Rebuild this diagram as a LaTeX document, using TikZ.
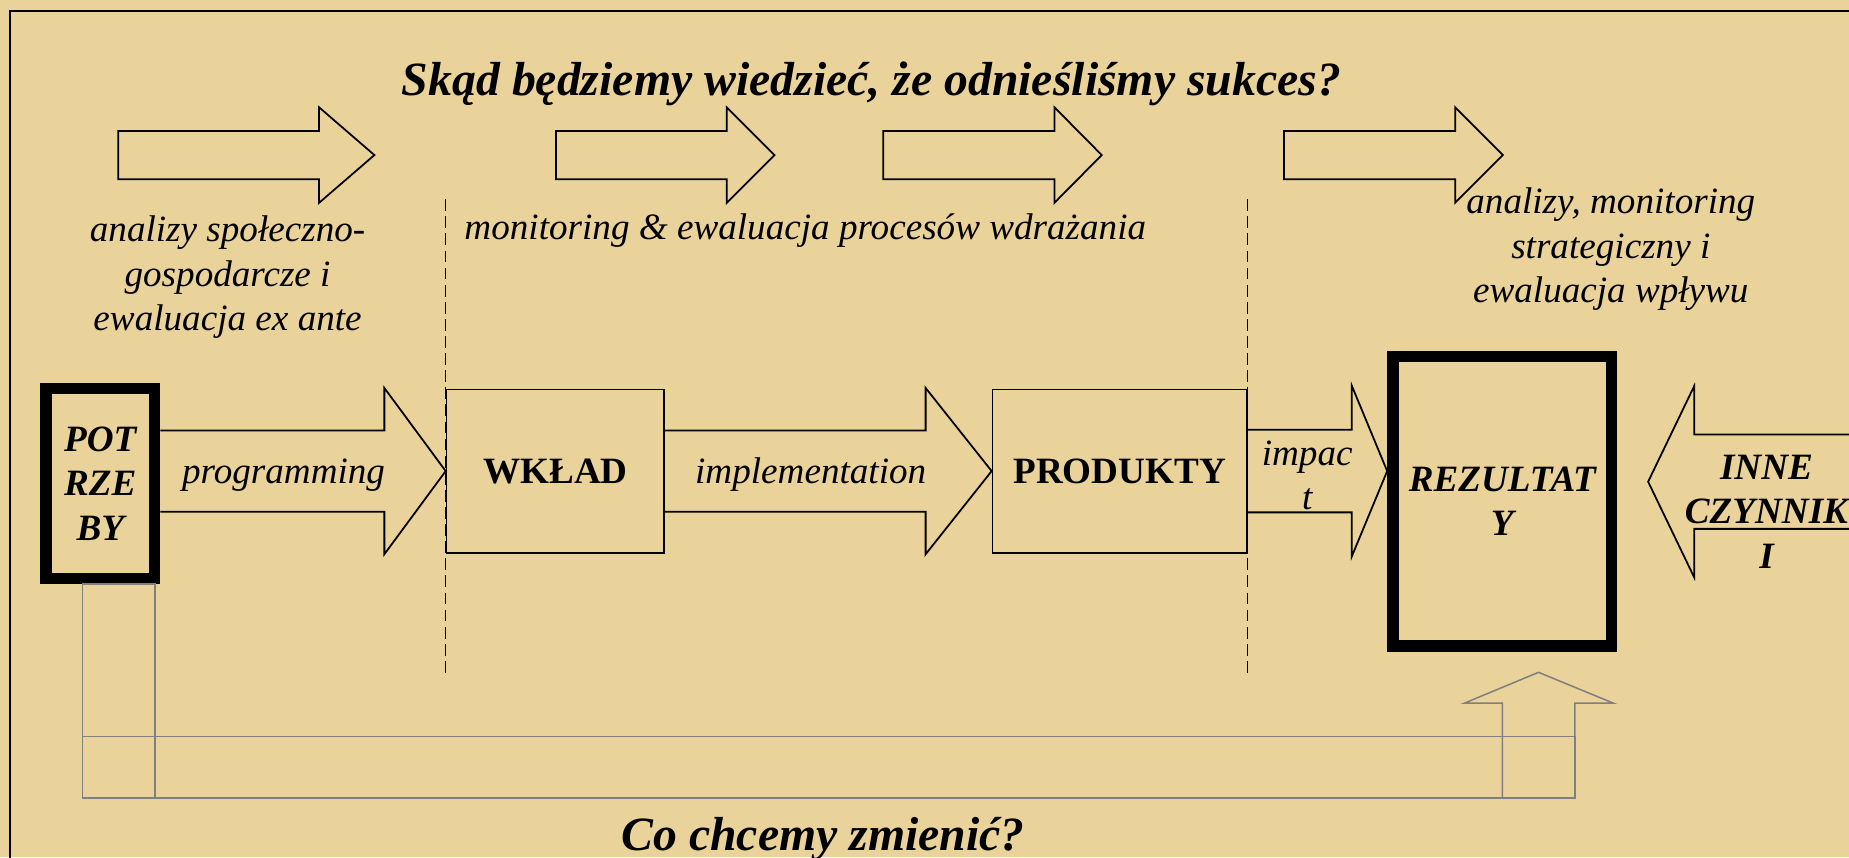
\documentclass[tikz,border=0pt]{standalone}
\usepackage{fontspec}
\setmainfont{Liberation Serif}
\usetikzlibrary{calc}
\definecolor{papyrus}{RGB}{234,211,155}
\definecolor{arrgrey}{RGB}{128,128,128}

\begin{document}
\begin{tikzpicture}[x=1pt,y=-1pt,
    blockarr/.style={draw=black,line width=1.5pt},
    greyarr/.style={draw=arrgrey,line width=1.3pt},
    stage/.style={draw,line width=1.5pt,inner sep=0pt,font=\fontsize{31.5}{37.6}\selectfont\bfseries},
    goal/.style={stage,line width=9.8pt,font=\fontsize{31.5}{37.6}\selectfont\bfseries\itshape,align=center},
    lbl/.style={inner sep=0pt,font=\fontsize{31.5}{37.6}\selectfont\itshape,align=center},
    ttl/.style={inner sep=0pt,font=\fontsize{40.5}{48}\selectfont\bfseries\itshape}]
                      \useasboundingbox (0,0) rectangle (1568,727);
                      \clip (0,0) rectangle (1568,727);
                      \fill[papyrus] (0,0) rectangle (1568,727);
                      \draw[line width=1.7pt] (8.3,9) rectangle (1620,780);
                      % questions
                      \node[ttl,anchor=base] (t) at (739,80.6) {Skąd będziemy wiedzieć, że odnieśliśmy sukces?};
                      \node[ttl,anchor=base] (c) at (698,721) {Co chcemy zmienić?};
                      % top row
                      \foreach \a/\b/\c in {100.3/270.6/317.5, 471.4/616.3/656.8, 749/894.2/934.3, 1088.8/1234/1274.5}
                          \draw[blockarr] (\a,111) -- (\b,111) -- (\b,91) -- (\c,131.5) -- (\b,172) -- (\b,152) -- (\a,152) -- cycle;
                      \node[lbl] (l1) at (193,235) {analizy społeczno-\\gospodarcze i\\ewaluacja ex ante};
                      \node[lbl,anchor=base west] (l2) at (393.7,203) {monitoring \& ewaluacja procesów wdrażania};
                      \node[lbl] (l3) at (1366,211.5) {analizy, monitoring\\strategiczny i\\ewaluacja wpływu};
                      % chain
                      \node[goal,minimum width=92pt,minimum height=161pt] (p) at (85,410) {POT\\RZE\\BY};
                      \node[stage,minimum width=184.6pt,minimum height=138.5pt] (w) at (471,399.5) {WKŁAD};
                      \node[stage,minimum width=215.6pt,minimum height=138.5pt] (d) at (949.5,399.5) {PRODUKTY};
                      \node[goal,minimum width=185.5pt,minimum height=245.3pt] (r) at (1274,425) {REZULTAT\\Y};
                      \draw[line width=1.2pt,dash pattern=on 10pt off 4.5pt] (w.west|-0,169)--(w.west|-0,571);
                      \draw[line width=1.2pt,dash pattern=on 10pt off 4.5pt] (d.east|-0,169)--(d.east|-0,571);
                      \draw[blockarr] ($(p.east|-w.west)+(0,-34.5)$) -- ($(w.west)+(-52,-34.5)$) -- ($(w.west)+(-52,-70.5)$) -- (w.west)
                          -- ($(w.west)+(-52,70.5)$) -- ($(w.west)+(-52,34.5)$) -- ($(p.east|-w.west)+(0,34.5)$);
                      \draw[blockarr] ($(w.east)+(0,-34.5)$) -- ($(d.west)+(-56,-34.5)$) -- ($(d.west)+(-56,-70.5)$) -- (d.west)
                          -- ($(d.west)+(-56,70.5)$) -- ($(d.west)+(-56,34.5)$) -- ($(w.east)+(0,34.5)$);
                      \draw[blockarr] ($(d.east)+(0,-35)$) -- ($(r.west|-d.east)+(-30,-35)$) -- ($(r.west|-d.east)+(-30,-72.4)$) -- (r.west|-d.east)
                          -- ($(r.west|-d.east)+(-30,72.4)$) -- ($(r.west|-d.east)+(-30,35)$) -- ($(d.east)+(0,35)$);
                      \node[lbl,anchor=base] (l4) at (240.5,410) {programming};
                      \node[lbl,anchor=base] (l5) at (687.5,410) {implementation};
                      \node[lbl] (l6) at (1108.5,403) {impac\\t};
                      % outside factors
                      \coordinate (k) at ($(r.east)+(26,-16.5)$);
                      \draw[blockarr] ($(k)+(220,-40)$) -- ($(k)+(39,-40)$) -- ($(k)+(39,-81)$) -- (k)
                          -- ($(k)+(39,81)$) -- ($(k)+(39,40)$) -- ($(k)+(220,40)$);
                      \node[lbl,font=\fontsize{31.5}{37.6}\selectfont\bfseries\itshape] (l7) at (1498,434) {INNE\\CZYNNIK\\I};
                      % feedback
                      \draw[greyarr] ($(p.south)+(-15,0)$) rectangle ($(p.south)+(46.4,181.9)$);
                      \draw[greyarr] ($(p.south)+(-15,129.3)$) rectangle ($(r.south)+(61.6,124)$);
                      \draw[greyarr] ($(r.south)+(0,124)$) -- ($(r.south)+(0,43.8)$) -- ($(r.south)+(-32.3,43.8)$) -- ($(r.south)+(30.7,17.6)$)
                          -- ($(r.south)+(94.3,43.8)$) -- ($(r.south)+(61.6,43.8)$) -- ($(r.south)+(61.6,124)$);
                  \end{tikzpicture}
\end{document}
